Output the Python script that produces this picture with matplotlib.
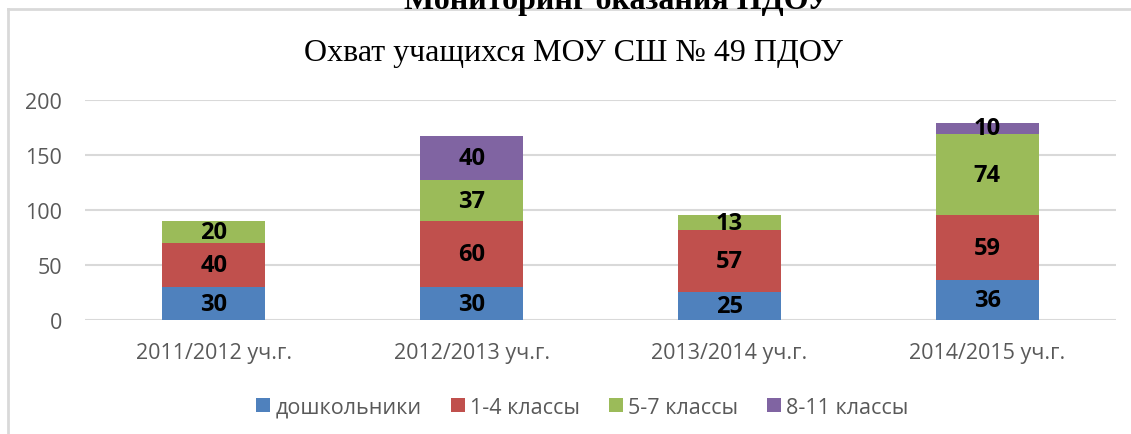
import numpy as np
import matplotlib.pyplot as plt
from matplotlib.lines import Line2D

years = ["2011/2012 уч.г.", "2012/2013 уч.г.", "2013/2014 уч.г.", "2014/2015 уч.г."]
series = ["дошкольники", "1-4 классы", "5-7 классы", "8-11 классы"]
preschool = [30, 30, 25, 36]
grades_1_4 = [40, 60, 57, 59]
grades_5_7 = [20, 37, 13, 74]
grades_8_11 = [0, 40, 0, 10]
colors = ["#4F81BD", "#C0504D", "#9BBB59", "#8064A2"]

fig = plt.figure(figsize=(11.31, 4.35), dpi=100)
ax = fig.add_axes([0.0752, 0.262, 0.9115, 0.5065])

x = np.arange(len(years))
bottom = np.zeros(len(years))
for vals, name, c in zip([preschool, grades_1_4, grades_5_7, grades_8_11], series, colors):
    vals = np.array(vals, dtype=float)
    ax.bar(x, vals, 0.4, bottom=bottom, color=c, label=name, zorder=3)
    for xi, b, v in zip(x, bottom, vals):
        if v > 0:
            ax.text(xi, b + v / 2, f"{int(v)}", ha="center", va="center",
                    fontsize=17, fontweight="bold", family="Open Sans", color="black", zorder=4)
    bottom += vals

ax.set_xlim(-0.5, 3.5)
ax.set_ylim(0, 200)
ax.set_yticks([0, 50, 100, 150, 200])
ax.set_xticks(x)
ax.set_xticklabels(years)
for s in ax.spines.values():
    s.set_visible(False)
ax.yaxis.grid(True, color="#D9D9D9", linewidth=1.5, zorder=0)
ax.tick_params(length=0, labelsize=15.5, labelcolor="#595959")
ax.tick_params(axis="y", pad=16.5)
ax.tick_params(axis="x", pad=16)
for lab in ax.get_xticklabels() + ax.get_yticklabels():
    lab.set_family("Open Sans")

fig.text(0.507, 0.877, "Охват учащихся МОУ СШ № 49 ПДОУ", ha="center", va="center",
         fontsize=23, family="Liberation Serif", color="black")
fig.text(0.546, 0.98, "Мониторинг оказания ПДОУ", ha="center", va="baseline",
         fontsize=23, fontweight="bold", family="Liberation Serif", color="black")

# chart frame (top and left edges visible)
fig.add_artist(Line2D([0.0075, 1.0], [0.977, 0.977], color="#D9D9D9", linewidth=2, transform=fig.transFigure))
fig.add_artist(Line2D([0.0075, 0.0075], [0.0, 0.977], color="#D9D9D9", linewidth=2, transform=fig.transFigure))

leg = fig.legend(loc="center", bbox_to_anchor=(0.515, 0.062), ncol=4, frameon=False,
                 handlelength=0.65, handleheight=0.65, handletextpad=0.25, columnspacing=1.33,
                 prop={"family": "Open Sans", "size": 15.5})
for t in leg.get_texts():
    t.set_color("#595959")

fig.savefig("out.png", dpi=100)
